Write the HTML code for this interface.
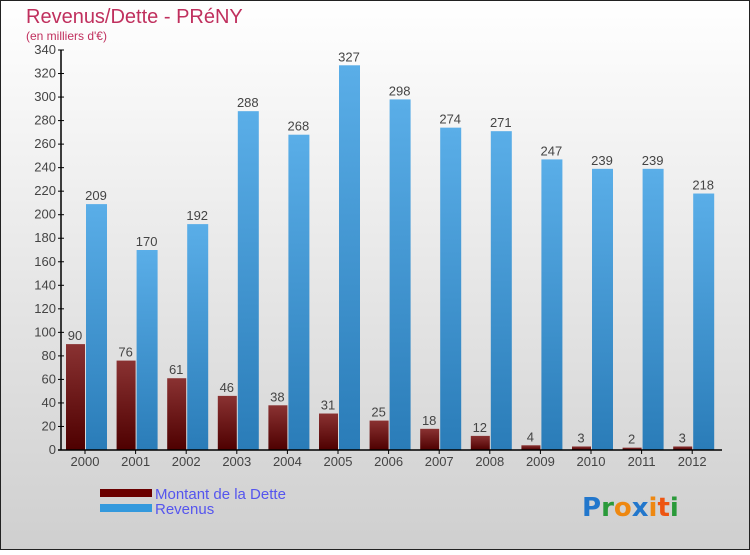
<!DOCTYPE html>
<html><head><meta charset="utf-8">
<style>
html,body{margin:0;padding:0}
body{width:750px;height:550px;overflow:hidden;font-family:"Liberation Sans","DejaVu Sans",sans-serif}
</style></head>
<body>
<svg id="chart" width="750" height="550" xmlns="http://www.w3.org/2000/svg" font-family="'Liberation Sans','DejaVu Sans',sans-serif">
<defs>
<linearGradient id="bg" x1="0" y1="0" x2="0" y2="1"><stop offset="0" stop-color="#ffffff"/><stop offset="1" stop-color="#cfcfcf"/></linearGradient>
<linearGradient id="gd" x1="0" y1="0" x2="0" y2="1"><stop offset="0" stop-color="#8a3232"/><stop offset="1" stop-color="#4e0000"/></linearGradient>
<linearGradient id="gr" x1="0" y1="0" x2="0" y2="1"><stop offset="0" stop-color="#5aaee8"/><stop offset="1" stop-color="#2a7cb8"/></linearGradient>
</defs>
<rect x="0.5" y="0.5" width="749" height="549" fill="url(#bg)" stroke="#222"/>
<text x="26" y="23" font-size="20" fill="#c0305e">Revenus/Dette - PRéNY</text>
<text x="26" y="40" font-size="12" fill="#c0305e">(en milliers d'€)</text>
<g id="plot"></g>
<g>
<rect x="100" y="489" width="52" height="8" fill="#6a0000"/>
<text x="155" y="499" font-size="15" fill="#5555ee">Montant de la Dette</text>
<rect x="100" y="504" width="52" height="8" fill="#3399dd"/>
<text x="155" y="514" font-size="15" fill="#5555ee">Revenus</text>
</g>
<g font-size="26" font-weight="bold" font-family="'DejaVu Sans',sans-serif">
<text x="582" y="516"><tspan fill="#2277cc">P</tspan><tspan fill="#2a9a3a">r</tspan><tspan fill="#ee8811">o</tspan><tspan fill="#2277cc">x</tspan><tspan fill="#ee8811">i</tspan><tspan fill="#ee5511">t</tspan><tspan fill="#2a9a3a">i</tspan></text>
</g>
</svg>
<script>
const years=["2000","2001","2002","2003","2004","2005","2006","2007","2008","2009","2010","2011","2012"];
const dette=[90,76,61,46,38,31,25,18,12,4,3,2,3];
const revenus=[209,170,192,288,268,327,298,274,271,247,239,239,218];
const yTicks=[0,20,40,60,80,100,120,140,160,180,200,220,240,260,280,300,320,340];
const NS="http://www.w3.org/2000/svg";
const g=document.getElementById('plot');
const y0=450,yTop=50,yMax=340;
const yS=v=>y0-(v/yMax)*(y0-yTop);
const xC=i=>85+i*50.6;
function mk(t,a,p){const e=document.createElementNS(NS,t);for(const k in a)e.setAttribute(k,a[k]);(p||g).appendChild(e);return e;}
yTicks.forEach(v=>{
  const y=yS(v);
  const l=mk('line',{x1:58,x2:64,y1:y,y2:y,stroke:'#000'});
  
  
  const t=mk('text',{x:56,y:y+4,'text-anchor':'end','font-size':13,fill:'#444'});
  t.textContent=v;
  
  
});
years.forEach((yr,i)=>{
  const c=xC(i);
  const d=mk('rect',{x:c-19,y:yS(dette[i]),width:19,height:y0-yS(dette[i]),fill:'url(#gd)'});
  
  
  const r=mk('rect',{x:c+1,y:yS(revenus[i]),width:21,height:y0-yS(revenus[i]),fill:'url(#gr)'});
  
  
  const td=mk('text',{x:c-10,y:yS(dette[i])-4,'text-anchor':'middle','font-size':13,fill:'#444'});
  td.textContent=dette[i];
  
  
  const tr=mk('text',{x:c+11,y:yS(revenus[i])-4,'text-anchor':'middle','font-size':13,fill:'#444'});
  tr.textContent=revenus[i];
  
  
  const tk=mk('line',{x1:c,x2:c,y1:y0,y2:y0+4,stroke:'#000'});
  
  
  const tl=mk('text',{x:c,y:466,'text-anchor':'middle','font-size':13,fill:'#444'});
  tl.textContent=yr;
  
  
});
const ya=mk('line',{x1:61,x2:61,y1:yTop,y2:y0,stroke:'#000','stroke-width':1.5});


const xa=mk('line',{x1:58,x2:722,y1:y0,y2:y0,stroke:'#000','stroke-width':1.5});


</script>
</body></html>
